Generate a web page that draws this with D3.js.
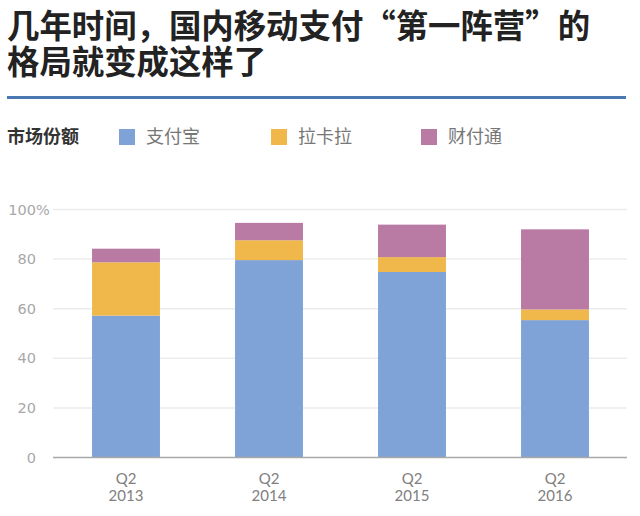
<!DOCTYPE html>
<meta charset="utf-8">
<script src="https://d3js.org/d3.v7.min.js"></script>
<style>
body { margin: 0; background: #fff; }
svg { font-family: "Noto Sans CJK SC", "Noto Sans", sans-serif; }
.tick-label { font-family: Lato, "Noto Sans", sans-serif; }
.y-label { font-family: "DejaVu Sans", sans-serif; }
</style>
<svg id="chart" width="640" height="516"></svg>
<script>
// data
var quarters = ["Q2", "Q2", "Q2", "Q2"];
var years = ["2013", "2014", "2015", "2016"];
var series = ["支付宝", "拉卡拉", "财付通"];
var alipay = [57.2, 79.6, 74.8, 55.4];
var lakala = [21.5, 8.0, 6.0, 4.3];
var tenpay = [5.5, 7.0, 13.1, 32.3];
var yTicks = [0, 20, 40, 60, 80, 100];
var colors = ["#7fa3d7", "#f0b84b", "#b97ba3"];
var titleLines = ["几年时间，国内移动支付“第一阵营”的", "格局就变成这样了"];

var svg = d3.select("#chart");

// title, two lines in one text block
svg.append("text")
  .style("font-size", "32.4px").style("font-weight", "bold").style("fill", "#222")
  .selectAll("tspan")
  .data(titleLines)
  .enter().append("tspan")
    .attr("x", 7)
    .attr("y", function(d, i) { return 38 + i * 36; })
    .text(function(d) { return d; });

svg.append("line")
  .attr("x1", 7).attr("x2", 626).attr("y1", 97.5).attr("y2", 97.5)
  .attr("stroke", "#4a78b0").attr("stroke-width", 3);

// legend
svg.append("text")
  .attr("x", 7).attr("y", 143)
  .style("font-size", "18px").style("font-weight", "bold").style("fill", "#333")
  .text("市场份额");

var legendX = [119, 271, 421];
var legend = svg.selectAll(".legend")
  .data(series)
  .enter().append("g")
    .attr("transform", function(d, i) { return "translate(" + legendX[i] + ",129)"; });
legend.append("rect")
  .attr("width", 16).attr("height", 16)
  .attr("fill", function(d, i) { return colors[i]; });
legend.append("text")
  .attr("x", 27).attr("y", 14)
  .style("font-size", "18px").style("fill", "#777")
  .text(function(d) { return d; });

// scales
var x = d3.scaleBand()
  .domain(years)
  .range([54.5, 626.5])
  .paddingInner(0.525)
  .paddingOuter(0.2625);

var y = d3.scaleLinear()
  .domain([0, 100])
  .range([457.5, 209.5]);

// grid
svg.append("g").selectAll("line")
  .data(yTicks.filter(function(d) { return d > 0; }))
  .enter().append("line")
    .attr("x1", 53).attr("x2", 627)
    .attr("y1", function(d) { return y(d); })
    .attr("y2", function(d) { return y(d); })
    .attr("stroke", "#ececec").attr("stroke-width", 1.5);

// y labels, "%" hangs right of the number column
var yl = svg.append("g").selectAll("text")
  .data(yTicks)
  .enter().append("text")
    .attr("class", "y-label")
    .attr("y", function(d) { return y(d) + 5; })
    .style("font-size", "14.5px").style("fill", "#a8a8a8");
yl.append("tspan")
  .attr("x", 36)
  .attr("text-anchor", "end")
  .text(function(d) { return d; });
yl.filter(function(d) { return d === 100; })
  .append("tspan")
    .attr("x", 36)
    .text("%");

// stacked bars
var rows = years.map(function(yr, i) {
  return { year: yr, a: alipay[i], b: lakala[i], c: tenpay[i] };
});
var stack = d3.stack().keys(["a", "b", "c"])(rows);

svg.append("g").selectAll("g")
  .data(stack)
  .enter().append("g")
    .attr("fill", function(d, i) { return colors[i]; })
  .selectAll("rect")
  .data(function(d) { return d; })
  .enter().append("rect")
    .attr("x", function(d) { return x(d.data.year); })
    .attr("width", x.bandwidth())
    .attr("y", function(d) { return y(d[1]); })
    .attr("height", function(d) { return y(d[0]) - y(d[1]); });

// baseline
svg.append("line")
  .attr("x1", 53).attr("x2", 627)
  .attr("y1", y(0)).attr("y2", y(0))
  .attr("stroke", "#a8a8a8").attr("stroke-width", 1.5);

// x labels
var xl = svg.append("g").selectAll("text")
  .data(years)
  .enter().append("text")
    .attr("class", "tick-label")
    .attr("x", function(d) { return x(d) + x.bandwidth() / 2; })
    .attr("text-anchor", "middle")
    .style("font-size", "15px").style("fill", "#808080");
xl.append("tspan")
  .attr("x", function(d) { return x(d) + x.bandwidth() / 2; })
  .attr("y", 484)
  .text(function(d, i) { return quarters[i]; });
xl.append("tspan")
  .attr("x", function(d) { return x(d) + x.bandwidth() / 2; })
  .attr("y", 501)
  .text(function(d) { return d; });
</script>
